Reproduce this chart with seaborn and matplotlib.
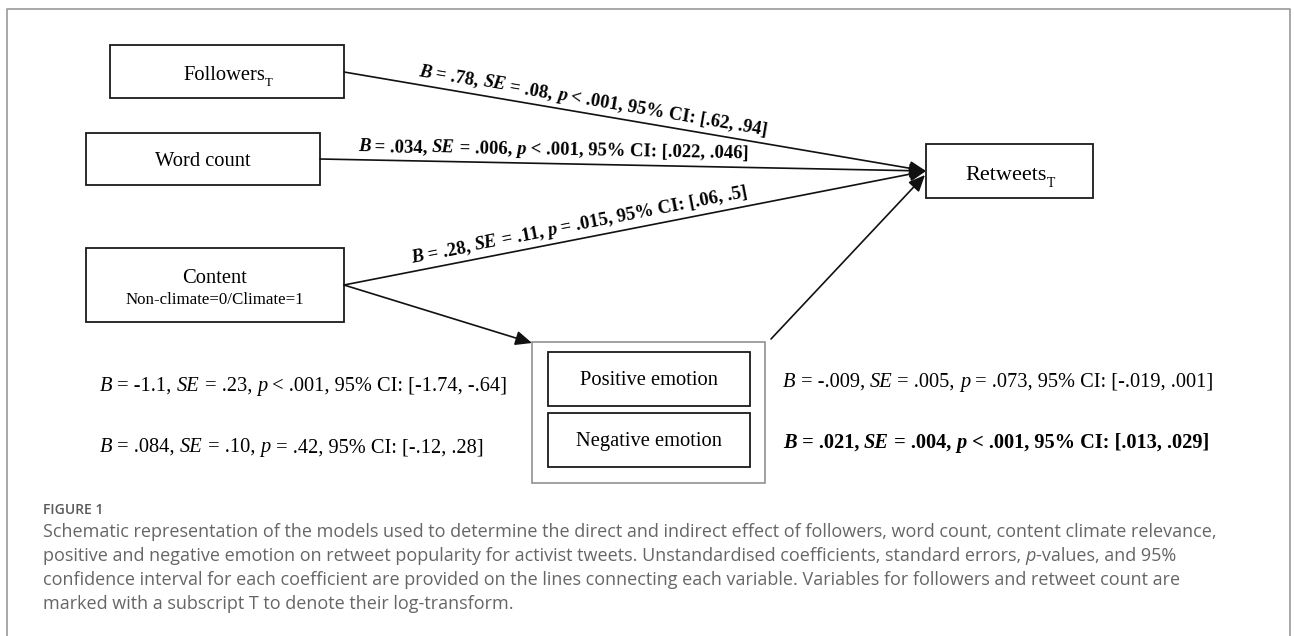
import numpy as np
import matplotlib
matplotlib.use("Agg")
import matplotlib.pyplot as plt
import seaborn as sns
from matplotlib.font_manager import FontProperties
from matplotlib.patches import Rectangle, FancyArrowPatch

# path coefficients: predictors -> retweets
direct_names = ["Followers", "Word count", "Content"]
direct_b = [".78", ".034", ".28"]
direct_se = [".08", ".006", ".11"]
direct_p = ["< .001", "< .001", "= .015"]
direct_ci = ["[.62, .94]", "[.022, .046]", "[.06, .5]"]

# content -> emotion (a paths) and emotion -> retweets (b paths)
emotions = ["Positive emotion", "Negative emotion"]
a_b = ["-1.1", ".084"]
a_se = [".23", ".10"]
a_p = ["< .001", "= .42"]
a_ci = ["[-1.74, -.64]", "[-.12, .28]"]
b_b = ["-.009", ".021"]
b_se = [".005", ".004"]
b_p = ["= .073", "< .001"]
b_ci = ["[-.019, .001]", "[.013, .029]"]
b_bold = [False, True]

caption_title = "FIGURE 1"
caption_lines = [
    [("Schematic representation of the models used to determine the direct and indirect effect of followers, word count, content climate relevance,", "n")],
    [("positive and negative emotion on retweet popularity for activist tweets. Unstandardised coefficients, standard errors, ", "n"),
     ("p", "it"), ("-values, and 95%", "n")],
    [("confidence interval for each coefficient are provided on the lines connecting each variable. Variables for followers and retweet count are", "n")],
    [("marked with a subscript T to denote their log-transform.", "n")],
]

SERIF = "Liberation Serif"
SANS = "Open Sans"

sns.set_theme(style="white")
plt.rcParams["font.family"] = [SERIF, "DejaVu Sans"]

fig = plt.figure(figsize=(12.94, 6.36), dpi=100)
ax = fig.add_axes([0, 0, 1, 1])
ax.set_xlim(0, 1294)
ax.set_ylim(636, 0)
ax.axis("off")
R = fig.canvas.get_renderer()


def text_w(s, fp):
    w1 = R.get_text_width_height_descent("x" + s + "x", fp, ismath=False)[0]
    w0 = R.get_text_width_height_descent("xx", fp, ismath=False)[0]
    return w1 - w0


def rich(x, y, parts, size, rot=0.0, ha="left", weight="normal", family=SERIF, color="black"):
    th = np.deg2rad(rot)
    ux, uy = np.cos(th), -np.sin(th)
    dx, dy = np.sin(th), np.cos(th)
    items = []
    for s, st in parts:
        fs = size * 0.62 if st == "sub" else size
        fp = FontProperties(family=family, size=fs, weight=weight,
                            style="italic" if st == "it" else "normal")
        items.append((s, st, fp, text_w(s, fp)))
    total = sum(i[3] for i in items)
    off = {"left": 0, "center": total / 2, "right": total}[ha]
    px, py = x - off * ux, y - off * uy
    for s, st, fp, w in items:
        sh = size * 100 / 72 * 0.3 if st == "sub" else 0
        ax.text(px + sh * dx, py + sh * dy, s, fontproperties=fp, rotation=rot,
                rotation_mode="anchor", ha="left", va="baseline", color=color)
        px += w * ux
        py += w * uy
    return total


def stat_parts(b, se, p, ci):
    return [("B", "it"), (" = " + b + ", ", "n"), ("SE", "it"), (" = " + se + ", ", "n"),
            ("p", "it"), (" " + p + ", 95% CI: " + ci, "n")]


def box(x0, y0, x1, y1, color="#1a1a1a", lw=1.3):
    ax.add_patch(Rectangle((x0, y0), x1 - x0, y1 - y0, fill=False, ec=color, lw=lw))


def arrow(p0, p1):
    ax.add_patch(FancyArrowPatch(p0, p1, arrowstyle="-|>,head_length=0.5,head_width=0.22",
                                 mutation_scale=20, color="#111", lw=1.2,
                                 shrinkA=0, shrinkB=0))


# outer frame
ax.plot([7, 7, 1290, 1290], [636, 9, 9, 636], color="#9a9a9a", lw=1.2)

# predictor boxes
boxes = [(110, 45, 344, 98), (86, 133, 320, 185), (86, 248, 344, 322)]
for bx in boxes:
    box(*bx)
ret_box = (926, 144, 1093, 198)
box(*ret_box)

BOX_FS = 14.8
rich(228, 80, [(direct_names[0], "n"), ("T", "sub")], BOX_FS, ha="center")
rich(203, 166, [(direct_names[1], "n")], BOX_FS, ha="center")
rich(215, 283, [(direct_names[2], "n")], BOX_FS, ha="center")
rich(215, 304, [("Non-climate=0/Climate=1", "n")], 12.2, ha="center")
rich(1010, 180, [("Retweets", "n"), ("T", "sub")], 16, ha="center")

# direct paths with labels
tip = (926, 171)
starts = [(344, 72), (320, 159), (344, 285)]
label_x = [591, 553, 582]
for i, st in enumerate(starts):
    arrow(st, tip)
    ang = np.degrees(np.arctan2(st[1] - tip[1], tip[0] - st[0]))
    th = np.deg2rad(ang)
    t = (label_x[i] - st[0]) / (tip[0] - st[0])
    lx = st[0] + t * (tip[0] - st[0])
    ly = st[1] + t * (tip[1] - st[1])
    gap = 9
    lx -= gap * np.sin(th)
    ly -= gap * np.cos(th)
    rich(lx, ly, stat_parts(direct_b[i], direct_se[i], direct_p[i], direct_ci[i]),
         13.4, rot=ang, ha="center", weight="bold")

# emotion block
box(532, 342, 765, 483, color="#888888", lw=1.1)
emo_boxes = [(548, 352, 750, 406), (548, 413, 750, 467)]
for j, eb in enumerate(emo_boxes):
    box(*eb)
    cy = (eb[1] + eb[3]) / 2
    rich((eb[0] + eb[2]) / 2, cy + 6, [(emotions[j], "n")], 14.8, ha="center")
    rich(100, cy + 12, stat_parts(a_b[j], a_se[j], a_p[j], a_ci[j]), 14.7)
    rich(783, cy + 8, stat_parts(b_b[j], b_se[j], b_p[j], b_ci[j]), 14.7,
         weight="bold" if b_bold[j] else "normal")

arrow((344, 285), (532, 343))
arrow((771, 339), (925, 175))

# caption
rich(43, 514, [(caption_title, "n")], 10, family=SANS, weight="semibold", color="#5a5a5a")
for k, line in enumerate(caption_lines):
    rich(43, 537 + 24 * k, line, 13.0, family=SANS, color="#666666")

fig.savefig("out.png", dpi=100, facecolor="white")
